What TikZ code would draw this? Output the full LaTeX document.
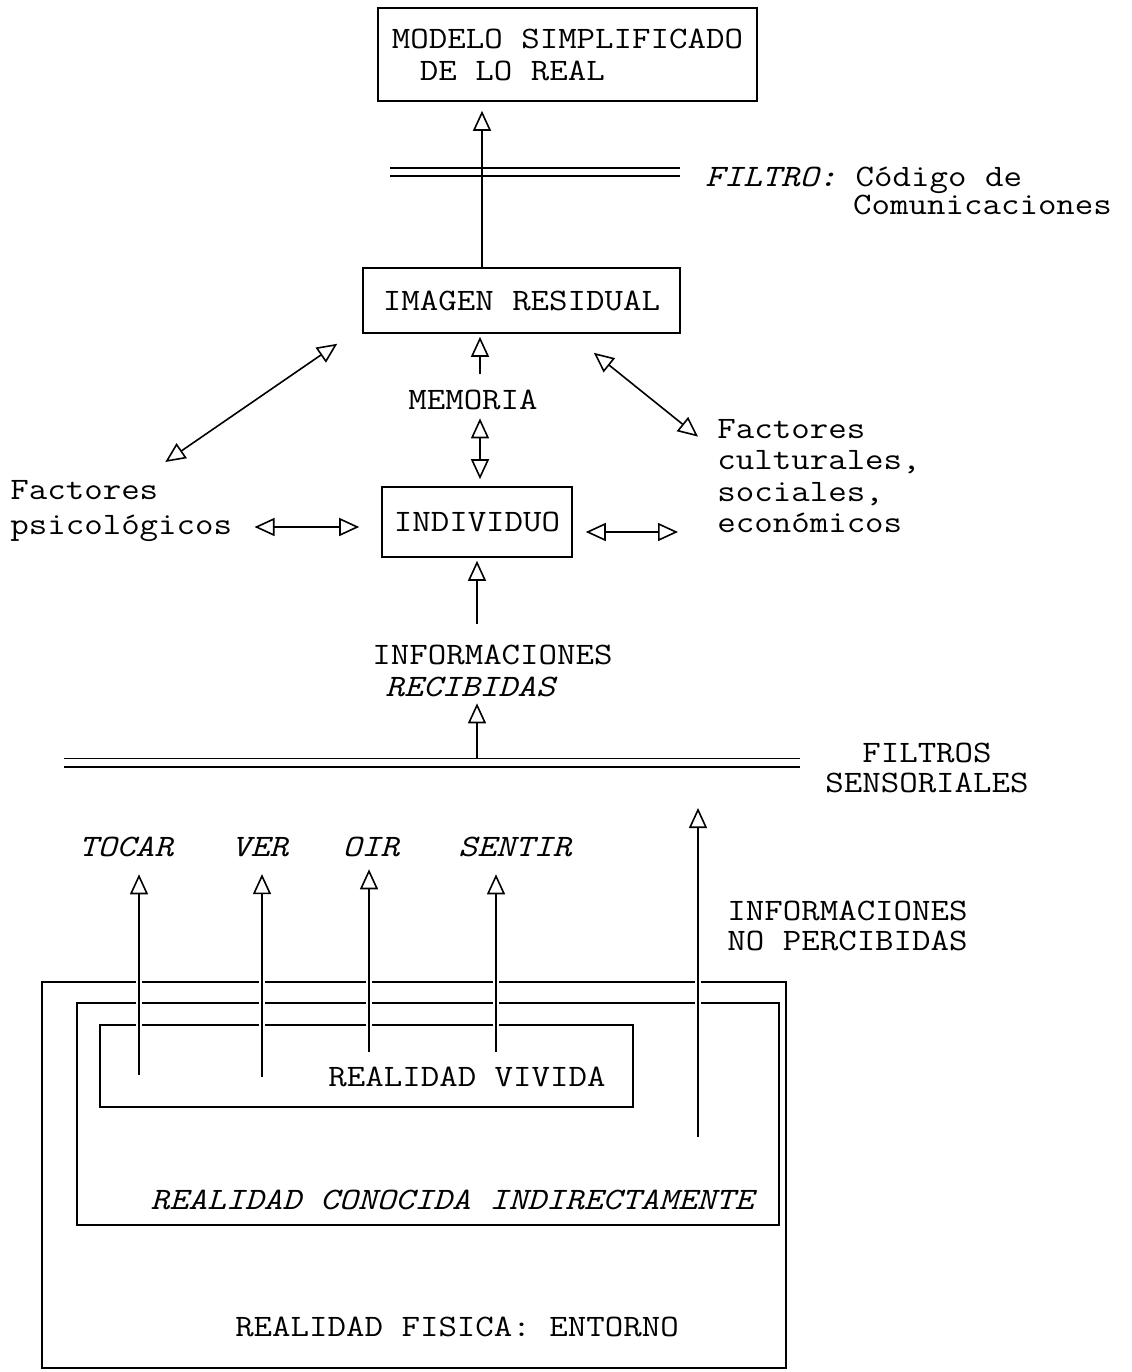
\documentclass[tikz,border=0pt]{standalone}
\usepackage{fontspec}
\usepackage{tikz}
\usetikzlibrary{positioning,arrows.meta,calc}
\newfontfamily\typewriter[FakeStretch=1.15, WordSpace={1,0,0}]{Latin Modern Mono}
\newcommand{\twat}[1]{\typewriter\fontsize{15.6}{#1}\selectfont}
\tikzset{
  box/.style={draw, line width=0.8pt, inner sep=0pt},
  lbl/.style={font=\twat{16}, inner sep=0pt, align=left},
  arr/.style={-{Triangle[open, length=10pt, width=9pt]}, line width=0.8pt},
  darr/.style={{Triangle[open, length=10pt, width=9pt]}-{Triangle[open, length=10pt, width=9pt]}, line width=0.8pt},
  crossing/.style={preaction={draw=white, line width=3pt, arrows=-, shorten >=20pt}},
  filterline/.style={double, double distance=3.4pt, line width=0.8pt}
}

\begin{document}
\begin{tikzpicture}[x=0.5pt, y=-0.5pt]
  \useasboundingbox (0,0) rectangle (1131,1372);

  % upper part
  \node[box, lbl, minimum width=189.5pt, minimum height=46.5pt] (modelo) at (567.5,54.5) {MODELO SIMPLIFICADO\\\hspace*{14pt}DE LO REAL};
  \coordinate (filtroL) at (390,172);
  \coordinate (filtroR) at (680,172);
  \draw[filterline] (filtroL) -- (filtroR);
  \node[lbl, anchor=west, font=\twat{14}] (filtro) at (705,191) {\textit{FILTRO:} Código de\\\phantom{FILTRO:\ }Comunicaciones};
  \node[box, lbl, minimum width=158.5pt, minimum height=32.5pt] (imagen) at (521.5,300.5) {IMAGEN RESIDUAL};
  \node[lbl] (memoria) at (473,400) {MEMORIA};
  \node[box, lbl, minimum width=95pt, minimum height=35pt] (individuo) at (477,522) {INDIVIDUO};
  \node[lbl, anchor=west, font=\twat{17.5}] (psico) at (10,511) {Factores\\psicológicos};
  \node[lbl, anchor=west, font=\twat{15.8}] (cultural) at (717,476) {Factores\\culturales,\\sociales,\\económicos};

  \coordinate (axisTop) at (482,0);
  \coordinate (axisMid) at (480,0);
  \coordinate (axisLow) at (477,0);

  \draw[arr, shorten >=4.5pt] (imagen.north -| axisTop) -- (modelo.south -| axisTop);
  \draw[arr, shorten <=8pt, shorten >=1.5pt] (memoria.north -| axisMid) -- (imagen.south -| axisMid);
  \draw[darr, shorten <=4pt, shorten >=3.5pt] (memoria.south -| axisMid) -- (individuo.north -| axisMid);
  \draw[darr, shorten <=11pt, shorten >=11pt] ($(psico.east |- individuo.west)+(0,5)$) -- ($(individuo.west)+(0,5)$);
  \draw[darr, shorten <=6.5pt, shorten >=19.5pt] ($(individuo.east)+(0,10)$) -- ($(individuo.east -| cultural.west)+(0,10)$);
  \draw[darr] ($(psico.north)+(44,-18)$) -- ($(imagen.south west)+(-25,10)$);
  \draw[darr] ($(imagen.south east)+(-87,19)$) -- ($(cultural.north west)+(-19,18)$);

  % lower part
  \node[lbl, anchor=west] (recibidas) at (372,671) {INFORMACIONES\\\hspace*{6.5pt}\textit{RECIBIDAS}};
  \draw[arr, shorten <=10.5pt, shorten >=1.5pt] (recibidas.north -| axisLow) -- (individuo.south -| axisLow);
  \coordinate (sensL) at (64,762.5);
  \coordinate (sensR) at (800,762.5);
  \draw[filterline] (sensL) -- (sensR);
  \draw[arr, shorten <=2.2pt, shorten >=3pt] (sensL -| axisLow) -- (recibidas.south -| axisLow);
  \node[lbl, align=center, font=\twat{15}] (sensorial) at (927,768) {FILTROS\\SENSORIALES};
  \node[lbl, anchor=west, font=\twat{15}] (noperc) at (727,926) {INFORMACIONES\\NO PERCIBIDAS};

  \node[box, minimum width=372pt, minimum height=193pt] (entorno) at (414,1175) {};
  \node[box, minimum width=351pt, minimum height=111pt] (conocida) at (428,1114) {};
  \node[box, minimum width=266.5pt, minimum height=41pt] (vivida) at (366.5,1066) {};
  \node[lbl] (vividaTxt) at (467,1077) {REALIDAD VIVIDA};
  \node[lbl, font=\twat{16}\itshape] (conocidaTxt) at (452,1200) {REALIDAD CONOCIDA INDIRECTAMENTE};
  \node[lbl] (entornoTxt) at (457,1327) {REALIDAD FISICA: ENTORNO};

  \foreach \nm/\txt/\lx/\ax/\foot/\gap in {tocar/TOCAR/126/139/1075/8.5pt, ver/VER/260/262/1077/8.5pt, oir/OIR/371/369/1052/6pt, sentir/SENTIR/515/496/1052/8.5pt}{
    \node[lbl, font=\twat{16}\itshape] (\nm) at (\lx,847) {\txt};
    \coordinate (\nm foot) at (\ax,\foot);
    \draw[arr, crossing, shorten >=\gap] (\nm foot) -- (\nm foot |- \nm.south);
  }
  \coordinate (noPercFoot) at (698,1137);
  \draw[arr, crossing, shorten >=22.75pt] (noPercFoot) -- (noPercFoot |- sensL);
\end{tikzpicture}
\end{document}
